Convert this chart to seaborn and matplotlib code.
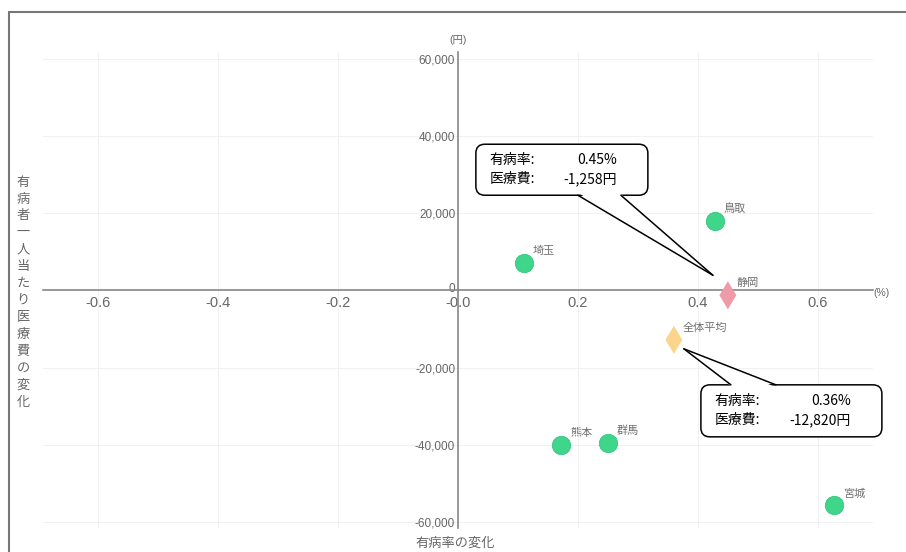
import matplotlib
matplotlib.use("Agg")
import matplotlib.pyplot as plt
import matplotlib.patches as mpatches
from matplotlib.transforms import Affine2D, ScaledTranslation
import seaborn as sns
import pandas as pd

# data
pref_names = ["埼玉", "鳥取", "熊本", "群馬", "宮城"]
pref_rate = [0.11, 0.428, 0.172, 0.25, 0.627]
pref_cost = [7000, 18000, -40000, -39600, -55700]

hl_names = ["静岡", "全体平均"]
hl_rate = [0.45, 0.36]
hl_cost = [-1258, -12820]
hl_colors = ["#ef9aa7", "#fbd58c"]

x_ticks = [-0.6, -0.4, -0.2, 0.0, 0.2, 0.4, 0.6]
y_ticks = [-60000, -40000, -20000, 0, 20000, 40000, 60000]

sns.set_theme(style="white")
plt.rcParams['font.family'] = ['Liberation Sans', 'Noto Sans CJK JP']
JP = ['Noto Sans CJK JP', 'DejaVu Sans']

W, H = 906, 552
fig = plt.figure(figsize=(W / 100, H / 100), dpi=100)
ax = fig.add_axes([43 / W, 1 - 528 / H, (873 - 43) / W, (528 - 52) / H])

pref_df = pd.DataFrame({"rate": pref_rate, "cost": pref_cost, "name": pref_names})
hl_df = pd.DataFrame({"rate": hl_rate, "cost": hl_cost, "name": hl_names})

ax.set_xlim(-0.692, 0.692)
ax.set_ylim(-61600, 61800)

sns.scatterplot(data=pref_df, x="rate", y="cost", s=175, color="#3fd68c",
                edgecolor="#36c57f", linewidth=0.6, ax=ax, zorder=4)
sns.scatterplot(data=hl_df, x="rate", y="cost", hue="name", palette=hl_colors,
                marker="d", s=205, linewidth=0, ax=ax, legend=False, zorder=4)

# point labels
for df in (pref_df, hl_df):
    for _, r in df.iterrows():
        ax.annotate(r["name"], (r["rate"], r["cost"]), xytext=(9, 12),
                    textcoords="offset pixels", ha="left", va="center",
                    fontsize=8, color="#707070", family=JP, zorder=5)

# axes through zero
for side in ("top", "right"):
    ax.spines[side].set_visible(False)
ax.spines["left"].set_position(("data", 0))
ax.spines["bottom"].set_position(("data", 0))
for side in ("left", "bottom"):
    ax.spines[side].set_color("#888888")
    ax.spines[side].set_linewidth(1.2)

ax.set_xticks(x_ticks)
ax.set_xticklabels(["-0.0" if v == 0 else f"{v:.1f}" for v in x_ticks])
ax.set_yticks(y_ticks)
ax.set_yticklabels([f"{v:,}" for v in y_ticks])
ax.tick_params(axis="x", length=0, pad=4, labelsize=10.5, labelcolor="#666666")
ax.tick_params(axis="y", length=0, pad=2, labelsize=8.5, labelcolor="#666666")
# lift the "0" label a little so it sits above the x tick labels
for t in ax.get_yticklabels():
    if t.get_text() == "0":
        t.set_transform(t.get_transform() + ScaledTranslation(0, 3 / 100, fig.dpi_scale_trans))
ax.grid(True, color="#f1f1f1", linewidth=0.8)
ax.set_axisbelow(True)
ax.set_xlabel("")
ax.set_ylabel("")

# unit labels
fig.text(458 / W, 1 - 40 / H, "(円)", ha="center", va="center", fontsize=7.5, color="#666666")
fig.text(873 / W, 1 - 293 / H, "(%)", ha="left", va="center", fontsize=7.5, color="#666666")

# axis titles
fig.text(415 / W, 1 - 543 / H, "有病率の変化", ha="left", va="center", fontsize=9.5,
         color="#666666", family=JP)
fig.text(23 / W, 1 - 292 / H, "\n".join("有病者一人当たり医療費の変化"), ha="center", va="center",
         fontsize=9.5, color="#666666", linespacing=1.39, family=JP)

# frame lines (left and top)
fig.add_artist(plt.Line2D([8.5 / W, 8.5 / W], [0, 1 - 11.5 / H], transform=fig.transFigure,
                          color="#777777", linewidth=1.5))
fig.add_artist(plt.Line2D([8.5 / W, 1], [1 - 11.5 / H, 1 - 11.5 / H], transform=fig.transFigure,
                          color="#777777", linewidth=1.5))


def callout(x, y, tip, box, base, rate, cost):
    # tip / box / base are pixel offsets (x right, y down) from the data point
    px, py = ax.transData.transform((x, y))
    tr = Affine2D().scale(1, -1).translate(px, py)
    bx0, by0, bx1, by1 = box
    rect = mpatches.FancyBboxPatch((bx0, by0), bx1 - bx0, by1 - by0,
                                   boxstyle="round,pad=0,rounding_size=9",
                                   facecolor="white", edgecolor="black", linewidth=1.1,
                                   transform=tr, zorder=6)
    fig.add_artist(rect)
    (b1x, b1y), (b2x, b2y) = base
    inward = 2 if b1y >= by1 - 0.5 else -2
    tri = mpatches.Polygon([(b1x + 1, b1y - inward), (b2x - 1, b2y - inward), tip],
                           closed=True, facecolor="white", edgecolor="none",
                           transform=tr, zorder=7)
    fig.add_artist(tri)
    for bx, by in ((b1x, b1y), (b2x, b2y)):
        fig.add_artist(plt.Line2D([bx, tip[0]], [by, tip[1]], color="black",
                                  linewidth=1.1, transform=tr, zorder=8))
    tx0 = bx0 + 14
    tx1 = bx1 - 31
    ty = (by0 + by1) / 2
    for dy, lab, val in ((-9.5, "有病率:", f"{rate:.2f}%"), (9.5, "医療費:", f"{cost:,}円")):
        fig.text(0, 0, lab, ha="left", va="center", fontsize=10, color="black",
                 family=JP, transform=Affine2D().translate(tx0, ty + dy) + tr, zorder=9)
        fig.text(0, 0, val, ha="right", va="center", fontsize=10, color="black",
                 family=JP, transform=Affine2D().translate(tx1, ty + dy) + tr, zorder=9)


# 静岡 callout
callout(hl_rate[0], hl_cost[0], tip=(-15, -20), box=(-252, -151, -80, -100),
        base=((-150, -100), (-107, -100)), rate=hl_rate[0], cost=hl_cost[0])
# 全体平均 callout
callout(hl_rate[1], hl_cost[1], tip=(10, 9), box=(27, 45, 208, 97),
        base=((57, 45), (102, 45)), rate=hl_rate[1], cost=hl_cost[1])

fig.savefig("out.png", dpi=100)
